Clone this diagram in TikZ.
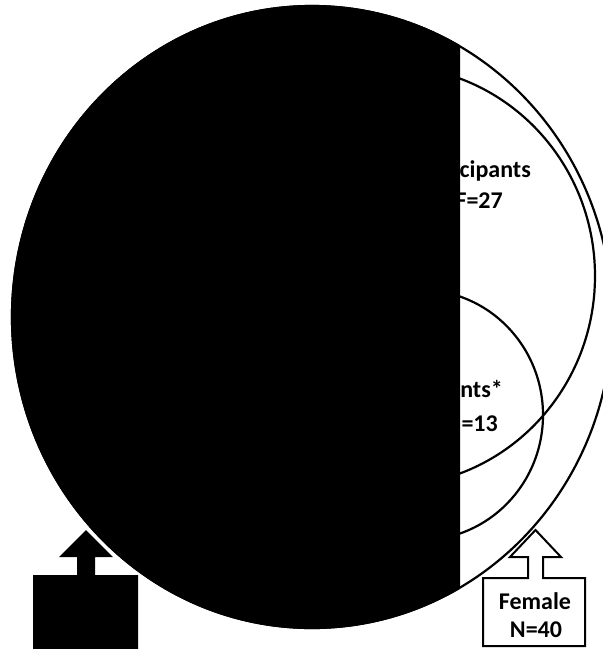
\documentclass[tikz,border=0pt]{standalone}
\usepackage{fontspec}
\setmainfont{Carlito}
\begin{document}
\begin{tikzpicture}[x=1pt,y=-1pt,
  ring/.style={draw=black, line width=2.2pt},
  lbl/.style={font=\bfseries\fontsize{24}{28}\selectfont, inner sep=0pt, text=black},
  boxline/.style={draw=black, line width=2pt, fill=white, line join=miter}]
\useasboundingbox (0,0) rectangle (603,649);
\begin{scope}
\clip (0,0) rectangle (603,649);
% set ellipses
\draw[ring] (312,317) ellipse [x radius=300pt, y radius=311pt];
\draw[ring] (390,276) ellipse [x radius=205pt, y radius=210pt];
\draw[ring] (421,415) ellipse [x radius=122pt, y radius=125pt];
% labels
\node[lbl, anchor=base east] (l27a) at (531,177) {cipants};
\node[lbl, anchor=base east] (l27b) at (503,208) {F=27};
\node[lbl, anchor=base east] (l13a) at (503,397) {nts*};
\node[lbl, anchor=base east] (l13b) at (498,431) {=13};
% black covered part
\begin{scope}
\clip (0,0) rectangle (460,649);
\filldraw[black, line width=2.2pt] (312,317) ellipse [x radius=300pt, y radius=311pt];
\end{scope}
% left box with arrow
\fill[black] (33,575) -- (77,575) -- (77,557) -- (59,557) -- (86,530) -- (113,557)
  -- (95,557) -- (95,575) -- (138,575) -- (138,649) -- (33,649) -- cycle;
% right box with arrow
\draw[boxline] (483,578) -- (528,578) -- (528,557) -- (510,557) -- (535.5,530)
  -- (561,557) -- (543,557) -- (543,578) -- (585,578) -- (585,646) -- (483,646) -- cycle;
\node[lbl, anchor=base] (fem) at (535,609) {Female};
\node[lbl, anchor=base] (fn) at (536,637) {N=40};
\end{scope}
\end{tikzpicture}
\end{document}
